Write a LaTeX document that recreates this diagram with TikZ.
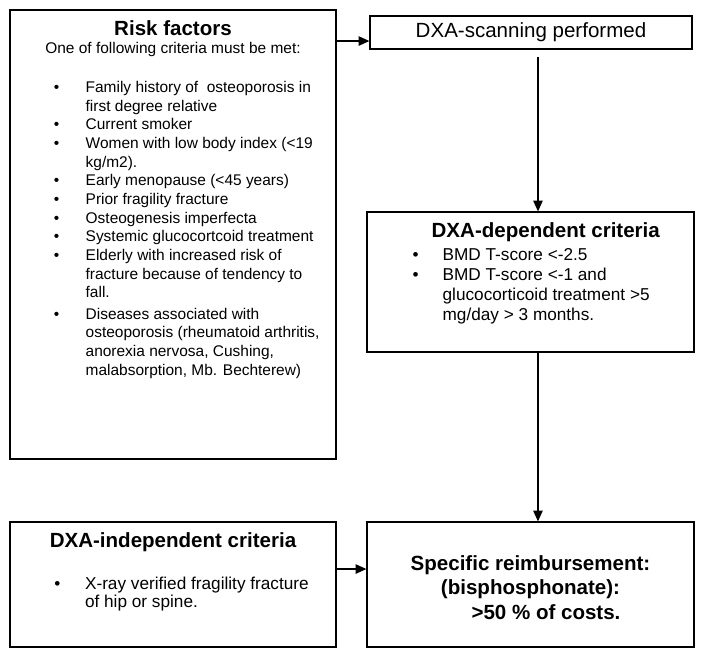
\documentclass[tikz,border=0pt]{standalone}
\usepackage{fontspec}
\setmainfont{Liberation Sans}
\usetikzlibrary{arrows.meta, positioning, calc}
\tikzset{
  box/.style = {
    draw,
    rectangle,
    line width=0.9pt,
    inner sep=0pt,
  },
  heading/.style = {
    inner sep=0pt,
    font=\bfseries\fontsize{15.4}{18.4}\selectfont,
  },
  list/.style = {
    anchor=base west,
    inner sep=0pt,
  },
  goes/.style = {
    -{Triangle[length=8pt, width=7pt]},
    line width=0.9pt,
  },
}

\begin{document}
\begin{tikzpicture}[
  x=0.75pt, y=-0.75pt,
  wide/.style = {
    box,
    minimum width=244.5pt,
  },
  wider/.style = {
    box,
    minimum width=245.25pt,
  },
]
\useasboundingbox (0,0) rectangle (704,657);

\node(risk)[wide, minimum height=336.75pt] at (173,234.5) {};
\node(scan)[box, minimum width=241.5pt, minimum height=24.75pt,
  font=\fontsize{15.4}{18.4}\selectfont] at (531,32.5) {DXA-scanning performed};
\node(dep)[wider, minimum height=105pt] at (530.5,282) {};
\node(indep)[wide, minimum height=93.75pt] at (173,584.5) {};
\node(reimb)[wider, minimum height=93.75pt] at (530.5,584.5) {};

\node(riskTitle)[heading, anchor=base] at ($(risk.north)+(0,26)$) {Risk factors};
\node(riskSub)[anchor=base, inner sep=0pt, font=\fontsize{11.6}{14}\selectfont]
  at ($(risk.north)+(0,44)$) {One of following criteria must be met:};
\node(riskList)[list, font=\fontsize{11.6}{14}\selectfont] at ($(risk.north west)+(44.3,83)$) {%
  \begin{tabular}[t]{@{}p{23.8pt}@{}l@{}}
  \textbullet & Family history of\ \ osteoporosis in\\
              & first degree relative\\
  \textbullet & Current smoker\\
  \textbullet & Women with low body index (<19\\
              & kg/m2).\\
  \textbullet & Early menopause (<45 years)\\
  \textbullet & Prior fragility fracture\\
  \textbullet & Osteogenesis imperfecta\\
  \textbullet & Systemic glucocortcoid treatment\\
  \textbullet & Elderly with increased risk of\\
              & fracture because of tendency to\\
              & fall.\\[2pt]
  \textbullet & Diseases associated with\\
              & osteoporosis (rheumatoid arthritis,\\
              & anorexia nervosa, Cushing,\\
              & malabsorption, Mb. Bechterew)
  \end{tabular}};

\node(depTitle)[heading, anchor=base west] at ($(dep.north west)+(65,26)$) {DXA-dependent criteria};
\node(depList)[list, font=\fontsize{12.9}{15}\selectfont] at ($(dep.north west)+(46,49)$) {%
  \begin{tabular}[t]{@{}p{22.5pt}@{}l@{}}
  \textbullet & BMD T-score <-2.5\\
  \textbullet & BMD T-score <-1 and\\
              & glucocorticoid treatment >5\\
              & mg/day > 3 months.
  \end{tabular}};

\node(indepTitle)[heading, anchor=base] at ($(indep.north)+(0,26)$) {DXA-independent criteria};
\node(indepList)[list, font=\fontsize{12.9}{13.5}\selectfont] at ($(indep.north west)+(44.6,68)$) {%
  \begin{tabular}[t]{@{}p{23.1pt}@{}l@{}}
  \textbullet & X-ray verified fragility fracture\\
              & of hip or spine.
  \end{tabular}};

\node(reimbText)[heading, anchor=base] at ($(reimb.north)+(0,49)$) {%
  \begin{tabular}[t]{@{}c@{}}
  Specific reimbursement:\\
  (bisphosphonate):\\
  \hspace*{23.25pt}>50 \% of costs.
  \end{tabular}};

\coordinate(scanIn) at ([yshift=-6.4pt]scan.west);
\coordinate(scanOut) at ([xshift=5.25pt, yshift=-5.25pt]scan.south);

\draw[goes] (scanIn -| risk.east) -- (scanIn);
\draw[goes] (scanOut) -- (scanOut |- dep.north);
\draw[goes] ([xshift=5.6pt]dep.south) -- ([xshift=5.6pt]reimb.north);
\draw[goes] ([yshift=11.6pt]indep.east) -- ([yshift=11.6pt]reimb.west);

\end{tikzpicture}
\end{document}
